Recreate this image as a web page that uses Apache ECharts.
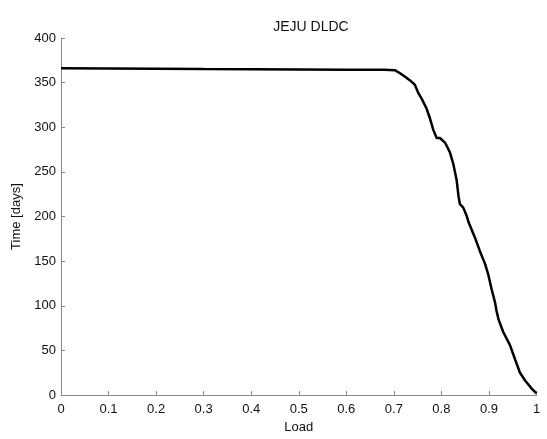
<!DOCTYPE html>
<html>
<head>
<meta charset="utf-8">
<script src="https://cdn.jsdelivr.net/npm/echarts@6/dist/echarts.min.js"></script>
<style>
html,body{margin:0;padding:0;background:#fff;}
#chart{width:547px;height:439px;}
</style>
</head>
<body>
<div id="chart"></div>
<script>
const chartTitle = 'JEJU DLDC';
const xName = 'Load';
const yName = 'Time [days]';
const loads = [0, 0.1, 0.2, 0.3, 0.4, 0.5, 0.6, 0.68, 0.702, 0.713, 0.723, 0.734, 0.744, 0.751, 0.759, 0.769, 0.776, 0.783, 0.790, 0.797, 0.808, 0.818, 0.825, 0.832, 0.836, 0.839, 0.846, 0.853, 0.857, 0.871, 0.881, 0.892, 0.899, 0.906, 0.913, 0.916, 0.920, 0.930, 0.944, 0.955, 0.965, 0.976, 0.990, 1.0];
const days = [366, 365.8, 365.5, 365.2, 365, 364.8, 364.5, 364.3, 364, 360.5, 356.8, 352.5, 347.8, 338.8, 331.5, 320.7, 309.8, 297.1, 288, 288, 282.6, 271.7, 259, 240.9, 222.8, 213.8, 210, 201, 193.8, 175.8, 161.2, 146.7, 134, 117.7, 103.3, 94.2, 85.1, 70.7, 56.2, 39.9, 25.3, 16.3, 7.3, 1.8];

const font = '"Liberation Sans", Arial, Helvetica, sans-serif';
const chart = echarts.init(document.getElementById('chart'), null, {renderer: 'canvas'});
chart.setOption({
  animation: false,
  backgroundColor: '#ffffff',
  title: {
    text: chartTitle,
    left: 306, top: 15, textAlign: 'center',
    textStyle: {fontFamily: font, fontSize: 14, fontWeight: 'normal', color: '#111'}
  },
  grid: {left: 61, right: 10.5, top: 38, bottom: 34},
  xAxis: {
    type: 'value', min: 0, max: 1, interval: 0.1,
    name: xName, nameLocation: 'middle', nameGap: 25,
    nameTextStyle: {fontFamily: font, fontSize: 13, color: '#111'},
    axisLine: {show: true, lineStyle: {color: '#8a8a8a', width: 1}},
    axisTick: {show: true, inside: true, length: 4, lineStyle: {color: '#8a8a8a'}},
    axisLabel: {fontFamily: font, fontSize: 13, color: '#111', margin: 8,
      formatter: v => String(Math.round(v * 10) / 10)},
    splitLine: {show: false}
  },
  yAxis: {
    type: 'value', min: 0, max: 400, interval: 50,
    name: yName, nameLocation: 'middle', nameGap: 37,
    nameTextStyle: {fontFamily: font, fontSize: 13, color: '#111'},
    axisLine: {show: true, lineStyle: {color: '#8a8a8a', width: 1}},
    axisTick: {show: true, inside: true, length: 4, lineStyle: {color: '#8a8a8a'}},
    axisLabel: {fontFamily: font, fontSize: 13, color: '#111', margin: 5},
    splitLine: {show: false}
  },
  series: [{
    type: 'line',
    data: loads.map((x, i) => [x, days[i]]),
    showSymbol: false,
    lineStyle: {color: '#000', width: 2.5},
    clip: false
  }]
});
</script>
</body>
</html>
